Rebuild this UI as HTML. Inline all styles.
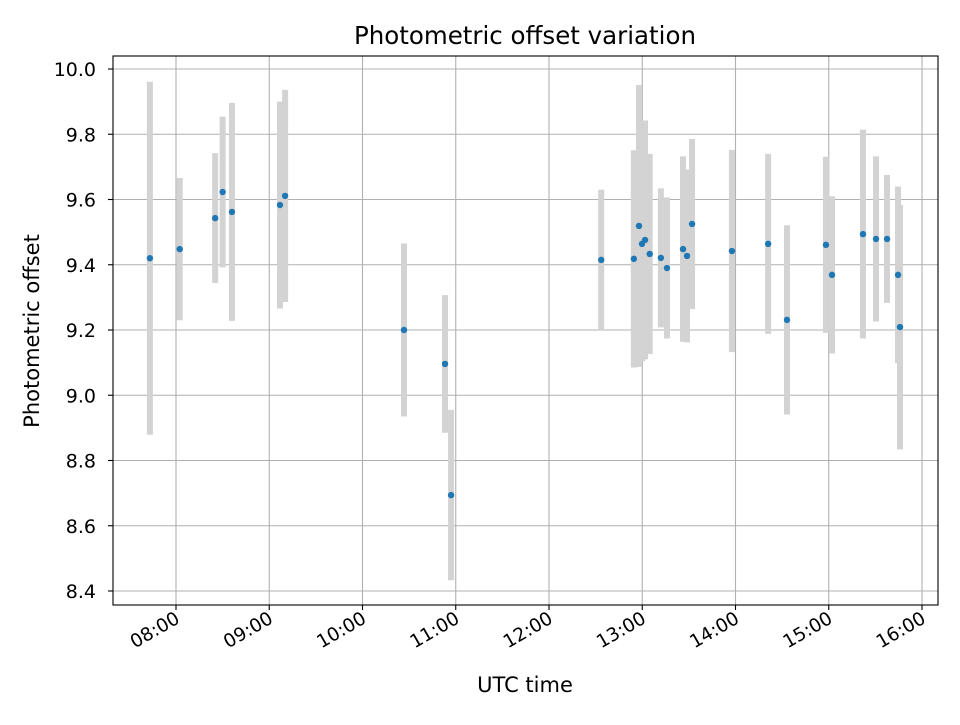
<!DOCTYPE html>
<html><head><meta charset="utf-8"><style>
body{margin:0;background:#fff}
svg text{font-family:"DejaVu Sans","Liberation Sans",sans-serif;fill:#000}
</style></head><body>
<svg id="chart" width="960" height="720" xmlns="http://www.w3.org/2000/svg">
<rect width="960" height="720" fill="#fff"/>
<text x="525" y="44" font-size="24.5" text-anchor="middle">Photometric offset variation</text>
<g id="grid"></g><g id="bars"></g><g id="pts"></g><g id="axes"></g>
<text x="525" y="692" font-size="21" text-anchor="middle">UTC time</text>
<text transform="translate(39,331) rotate(-90)" font-size="21" text-anchor="middle">Photometric offset</text>
</svg>
<script>
const times=[7.72,8.04,8.42,8.50,8.60,9.115,9.17,10.445,10.885,10.95,12.56,12.91,12.965,12.997,13.03,13.08,13.20,13.265,13.437,13.48,13.534,13.962,14.35,14.552,14.97,15.035,15.367,15.507,15.625,15.743,15.764];
const offsets=[9.42,9.448,9.543,9.623,9.562,9.583,9.611,9.20,9.096,8.694,9.415,9.418,9.519,9.464,9.476,9.433,9.421,9.39,9.448,9.427,9.525,9.442,9.464,9.231,9.461,9.369,9.494,9.479,9.479,9.369,9.209];
const errors=[0.541,0.218,0.199,0.231,0.334,0.317,0.325,0.265,0.211,0.261,0.215,0.333,0.432,0.36,0.366,0.307,0.213,0.216,0.284,0.265,0.261,0.31,0.276,0.29,0.27,0.241,0.32,0.253,0.196,0.271,0.375];
const xTicks=[8,9,10,11,12,13,14,15,16];
const xTickLabels=["08:00","09:00","10:00","11:00","12:00","13:00","14:00","15:00","16:00"];
const yTicks=[8.4,8.6,8.8,9.0,9.2,9.4,9.6,9.8,10.0];
const L=113,R=938,T=56,B=605;
const X=h=>176+(h-8)*93.25;
const Y=v=>69+(10-v)*326.25;
const NS="http://www.w3.org/2000/svg";
function mk(p,tag,attrs){const e=document.createElementNS(NS,tag);for(const k in attrs)e.setAttribute(k,attrs[k]);document.getElementById(p).appendChild(e);return e;}
xTicks.forEach((t,i)=>{
 const g=mk('grid','line',{x1:X(t),x2:X(t),y1:T,y2:B,stroke:'#b0b0b0','stroke-width':1.1});
 
 
 mk('axes','line',{x1:X(t),x2:X(t),y1:B,y2:B+5,stroke:'#000','stroke-width':1.1});
 const tx=mk('axes','text',{transform:`translate(${X(t)+5},${B+17}) rotate(-30)`,'font-size':18.5,'text-anchor':'end'});
 tx.textContent=xTickLabels[i];
 
 
});
yTicks.forEach(t=>{
 const g=mk('grid','line',{x1:L,x2:R,y1:Y(t),y2:Y(t),stroke:'#b0b0b0','stroke-width':1.1});
 
 
 mk('axes','line',{x1:L-5,x2:L,y1:Y(t),y2:Y(t),stroke:'#000','stroke-width':1.1});
 const tx=mk('axes','text',{x:L-17,y:Y(t)+7,'font-size':19,'text-anchor':'end'});
 tx.textContent=t.toFixed(1);
 
 
});
const fr=mk('axes','rect',{x:L,y:T,width:R-L,height:B-T,fill:'none',stroke:'#000','stroke-width':1.1});


times.forEach((t,i)=>{
 const b=mk('bars','line',{x1:X(t),x2:X(t),y1:Y(offsets[i]+errors[i]),y2:Y(offsets[i]-errors[i]),stroke:'#d3d3d3','stroke-width':6});
 
 
 const p=mk('pts','circle',{cx:X(t),cy:Y(offsets[i]),r:3.2,fill:'#1f77b4'});
 
 
});
</script>
</body></html>
